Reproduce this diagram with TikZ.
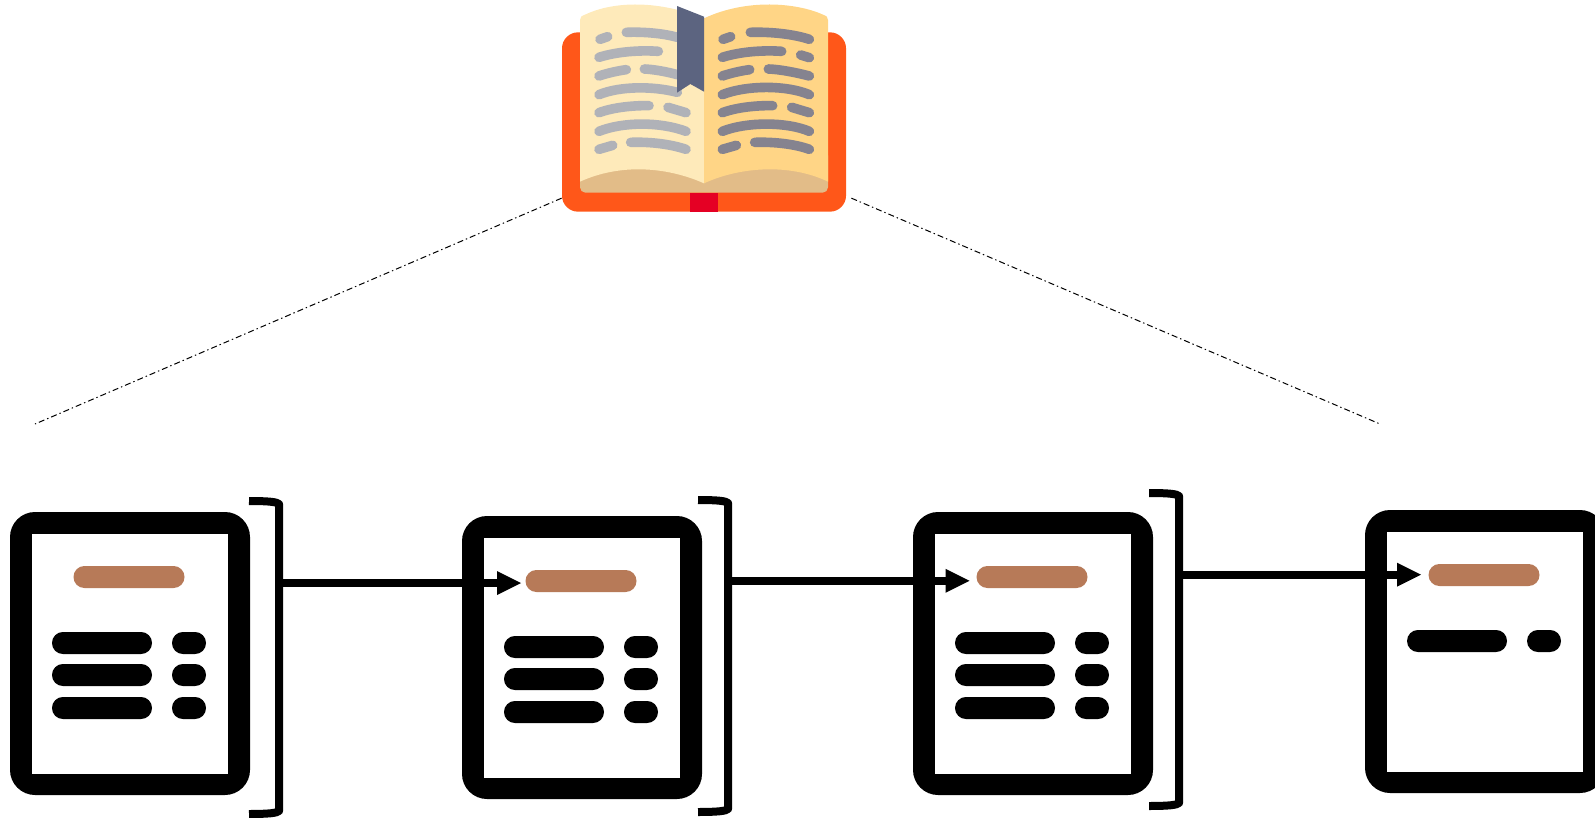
\documentclass[tikz,border=0pt]{standalone}
\usetikzlibrary{arrows.meta}
\definecolor{coverc}{HTML}{FF5719}
\definecolor{spinec}{HTML}{E50024}
\definecolor{pagel}{HTML}{FEEABA}
\definecolor{pager}{HTML}{FFD586}
\definecolor{tanc}{HTML}{E2BC88}
\definecolor{markc}{HTML}{5C6480}
\definecolor{linel}{HTML}{B0B2B8}
\definecolor{liner}{HTML}{85838F}
\definecolor{brownc}{HTML}{B77A58}
% rounded rectangle: left, top, right, bottom, radius (in picture units)
\newcommand{\rrect}[6]{%
 \fill[#1] (#2+#6,#3) -- (#4-#6,#3)
  .. controls (#4-0.45*#6,#3) and (#4,#3+0.45*#6) .. (#4,#3+#6)
  -- (#4,#5-#6)
  .. controls (#4,#5-0.45*#6) and (#4-0.45*#6,#5) .. (#4-#6,#5)
  -- (#2+#6,#5)
  .. controls (#2+0.45*#6,#5) and (#2,#5-0.45*#6) .. (#2,#5-#6)
  -- (#2,#3+#6)
  .. controls (#2,#3+0.45*#6) and (#2+0.45*#6,#3) .. (#2+#6,#3) -- cycle;}
\newcommand{\docicon}[3]{%
 \begin{scope}[shift={(#1,#2)}]
  \rrect{black}{10}{512}{250}{795}{25}
  \fill[white] (31.5,533.5) rectangle (228,773.5);
  \rrect{brownc}{73.5}{566}{184.5}{588}{10.9}
  \foreach \yy in {#3}{
   \rrect{black}{52}{\yy}{152}{\yy+22}{10.9}
   \rrect{black}{172}{\yy}{206}{\yy+22}{10.9}
  }
 \end{scope}}
\newcommand{\brk}[3]{%
 \draw[brk] (#1,#2) .. controls (#1+20,#2) and (#1+28,#2+1) .. (#1+30,#2+3) -- (#1+30,#3-3) .. controls (#1+28,#3-1) and (#1+20,#3) .. (#1,#3);}
\tikzset{
 brk/.style={line width=4pt,line join=round},
 flow/.style={line width=4pt,-{Triangle[length=12pt,width=12pt,line width=0pt]}},
 guide/.style={line width=0.5pt,dash pattern=on 3pt off 1.5pt on 0.7pt off 1.5pt},
 bl/.style={line width=4.8pt,line cap=round,linel},
 br/.style={line width=4.8pt,line cap=round,liner},
}
\begin{document}
\begin{tikzpicture}[x=0.5pt,y=-0.5pt]
\useasboundingbox (0,0) rectangle (1595,818);
\clip (0,0) rectangle (1595,818);
% book
\begin{scope}[shift={(540,0)},x=0.16667pt,y=-0.16667pt]
 \rrect{coverc}{66}{97}{918}{635}{48}
 \fill[spinec] (451,578) rectangle (533,635);
 \rrect{tanc}{120}{450}{864}{578}{16}
 \fill[pagel] (120,60) .. controls (120,50) and (125,48) .. (135,44) .. controls (210,8) and (340,-5) .. (492,55) -- (492,550) .. controls (380,500) and (240,490) .. (120,545) -- cycle;
 \fill[pager] (492,55) .. controls (620,-5) and (770,8) .. (849,44) .. controls (859,48) and (864,50) .. (864,60) -- (864,545) .. controls (750,490) and (600,500) .. (492,550) -- cycle;
 % left lines
 \draw[bl] (180,118) -- (203,110);
 \draw[bl] (259,97) .. controls (310,95) and (370,100) .. (412,112);
 \draw[bl] (177,172) .. controls (230,155) and (300,150) .. (355,154);
 \draw[bl] (177,228) .. controls (200,220) and (235,212) .. (259,209);
 \draw[bl] (313,207) .. controls (340,208) and (380,215) .. (412,224);
 \draw[bl] (177,284) .. controls (240,258) and (340,258) .. (412,277);
 \draw[bl] (177,338) .. controls (220,322) and (280,316) .. (327,317);
 \draw[bl] (384,322) -- (438,338);
 \draw[bl] (177,394) .. controls (250,365) and (360,365) .. (438,394);
 \draw[bl] (177,448) -- (218,436);
 \draw[bl] (272,427) .. controls (330,425) and (390,432) .. (438,448);
 % right lines
 \draw[br] (549,118) -- (572,110);
 \draw[br] (631,97) .. controls (690,95) and (760,102) .. (808,118);
 \draw[br] (547,172) .. controls (600,155) and (670,150) .. (725,154);
 \draw[br] (782,165) -- (808,173);
 \draw[br] (547,228) .. controls (570,220) and (605,212) .. (629,209);
 \draw[br] (685,207) .. controls (720,208) and (770,218) .. (808,228);
 \draw[br] (547,284) .. controls (620,255) and (740,255) .. (808,284);
 \draw[br] (547,338) .. controls (590,322) and (650,316) .. (698,317);
 \draw[br] (755,322) -- (808,338);
 \draw[br] (547,394) .. controls (620,365) and (740,365) .. (808,394);
 \draw[br] (547,448) -- (589,436);
 \draw[br] (644,427) .. controls (700,425) and (765,432) .. (808,448);
 \fill[markc] (411,18) -- (492,50) -- (492,275) -- (451,252) -- (411,278) -- cycle;
\end{scope}
\node[inner sep=0,minimum size=0pt] (bookl) at (562,198) {};
\node[inner sep=0,minimum size=0pt] (bookr) at (851,198) {};
\coordinate (gl) at (35,424);
\coordinate (gr) at (1380,424);
\draw[guide] (bookl) -- (gl);
\draw[guide] (bookr) -- (gr);
% documents
\docicon{0}{0}{632,664,697}
\docicon{452}{4}{632,664,697}
\docicon{903}{0}{632,664,697}
\docicon{1355}{-2}{632}
% brackets
\brk{249}{501}{814}
\brk{698}{500}{812}
\brk{1149}{493}{806}
% arrows
\coordinate (a1) at (283,583);
\coordinate (b1) at (521,583);
\coordinate (a2) at (731,580.8);
\coordinate (b2) at (969.5,580.8);
\coordinate (a3) at (1183,574.7);
\coordinate (b3) at (1421,574.7);
\draw[flow] (a1) -- (b1);
\draw[flow] (a2) -- (b2);
\draw[flow] (a3) -- (b3);
\end{tikzpicture}
\end{document}
